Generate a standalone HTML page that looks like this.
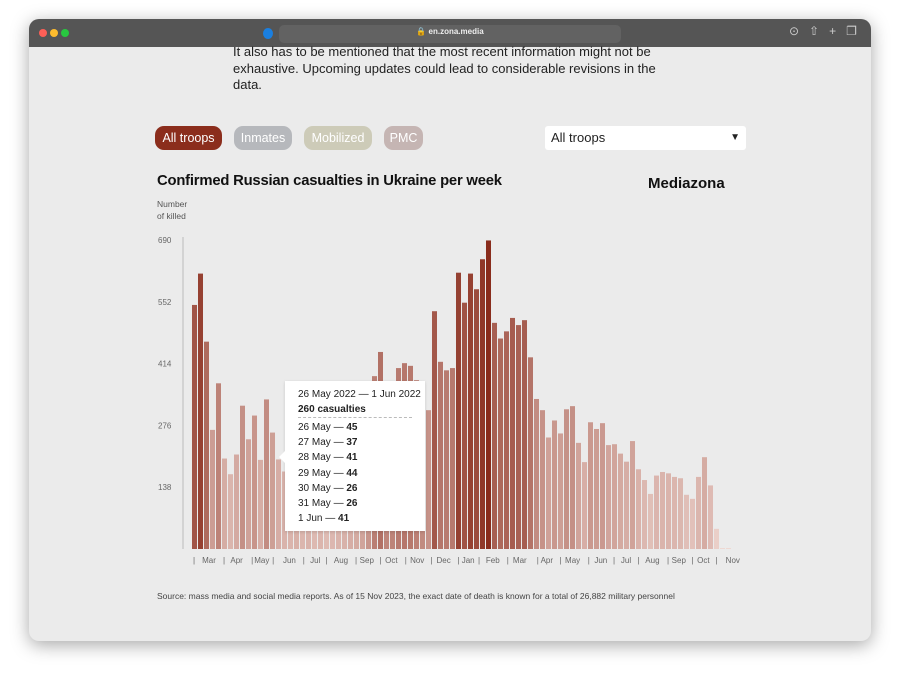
<!DOCTYPE html>
<html><head><meta charset="utf-8"><style>
body{margin:0;width:900px;height:680px;background:#fff;font-family:"Liberation Sans",sans-serif;position:relative;overflow:hidden}
.win{position:absolute;left:29px;top:19px;width:842px;height:622px;border-radius:10px;overflow:hidden;background:#ebebeb;box-shadow:0 4px 18px rgba(0,0,0,.35)}
.bar{position:absolute;left:0;top:0;width:842px;height:28px;background:#555}
.abs{position:absolute}
.pill{position:absolute;top:107px;height:24px;border-radius:9px;color:#fff;font-size:12.5px;line-height:24px;text-align:center}
</style></head><body>
<div class="win">
 <div class="bar">
  <div class="abs" style="left:10px;top:10px;width:8px;height:8px;border-radius:50%;background:#fe5f57"></div>
  <div class="abs" style="left:21px;top:10px;width:8px;height:8px;border-radius:50%;background:#febc2e"></div>
  <div class="abs" style="left:32px;top:10px;width:8px;height:8px;border-radius:50%;background:#28c840"></div>
  <div class="abs" style="left:250px;top:6px;width:342px;height:18px;border-radius:5px;background:#626262"></div>
  <div class="abs" style="left:234px;top:9px;width:10px;height:11px;border-radius:50%;background:#1a7fe0"></div>
  <div class="abs" style="left:250px;top:8px;width:342px;text-align:center;color:#eee;font-size:8px;font-weight:bold">🔒 en.zona.media</div>
  <div class="abs" style="left:760px;top:5px;color:#ccc;font-size:12px;letter-spacing:10px">⊙⇧+❐</div>
 </div>
 <div class="abs" style="left:204px;top:25px;width:424px;font-size:13px;line-height:16.5px;color:#222">It also has to be mentioned that the most recent information might not be exhaustive. Upcoming updates could lead to considerable revisions in the data.</div>
 <div class="pill" style="left:126px;width:67px;background:#8b2d1c">All troops</div>
 <div class="pill" style="left:205px;width:58px;background:#b6b8bc">Inmates</div>
 <div class="pill" style="left:275px;width:68px;background:#cdcbb8">Mobilized</div>
 <div class="pill" style="left:355px;width:39px;background:#c5b5b3">PMC</div>
 <div class="abs" style="left:516px;top:107px;width:201px;height:24px;background:#fff;border-radius:3px;font-size:13px;line-height:24px;color:#222"><span style="margin-left:6px">All troops</span><span style="position:absolute;right:6px;top:0;font-size:10px">▼</span></div>
 <div class="abs" style="left:128px;top:154px;font-size:14.8px;font-weight:bold;color:#111;letter-spacing:-.2px">Confirmed Russian casualties in Ukraine per week</div>
 <div class="abs" style="left:619px;top:156px;font-size:15px;font-weight:bold;color:#111">Mediazona</div>
 <div class="abs" style="left:128px;top:179px;font-size:8.5px;line-height:12px;color:#555">Number<br>of killed</div>
 <div class="abs" style="left:128px;top:572px;font-size:8.5px;color:#444">Source: mass media and social media reports. As of 15 Nov 2023, the exact date of death is known for a total of 26,882 military personnel</div>
</div>
<svg class="abs" style="left:0;top:0" width="900" height="680" id="chart"></svg>
<div class="abs" style="left:285px;top:381px;width:140px;height:150px;background:#fff;font-size:10px;color:#222;box-shadow:0 1px 3px rgba(0,0,0,.15)">
 <div style="position:absolute;left:-6px;top:70px;width:0;height:0;border:6px solid transparent;border-right-color:#fff;border-left:0"></div>
 <div style="position:absolute;left:13px;top:6px;line-height:15px">26 May 2022 — 1 Jun 2022<br><b>260 casualties</b></div>
 <div style="position:absolute;left:13px;top:36px;width:114px;border-top:1px dashed #bbb"></div>
 <div style="position:absolute;left:13px;top:39px;line-height:15.2px">26 May — <b>45</b><br>27 May — <b>37</b><br>28 May — <b>41</b><br>29 May — <b>44</b><br>30 May — <b>26</b><br>31 May — <b>26</b><br>1 Jun — <b>41</b></div>
</div>
<script>
const values=[545,615,463,266,370,202,167,211,320,245,298,199,334,260,200,173,170,185,160,175,150,165,140,155,170,180,200,210,240,300,386,440,360,365,404,415,409,377,340,310,531,418,399,404,617,550,615,580,647,689,505,470,486,516,500,511,428,335,310,249,287,258,312,319,237,194,283,268,281,232,234,213,195,241,178,154,123,164,172,169,161,158,121,112,161,205,142,45,2,2];
const yTicks=[138,276,414,552,690];
const monthLabels=["|","Mar","|","Apr","|","May","|","Jun","|","Jul","|","Aug","|","Sep","|","Oct","|","Nov","|","Dec","|","Jan","|","Feb","|","Mar","|","Apr","|","May","|","Jun","|","Jul","|","Aug","|","Sep","|","Oct","|","Nov"];
const monthIdx=[0,2.5,5,7.1,9.7,11.3,13.2,15.9,18.3,20.2,22.1,24.5,27,28.8,31.1,32.9,35.3,37.2,39.6,41.6,44.1,45.7,47.5,49.8,52.3,54.3,57.3,58.8,61.1,63.1,65.8,67.8,70,72,74.1,76.4,79,80.8,83.1,84.9,87.1,89.8];
const svg=document.getElementById('chart'),NS='http://www.w3.org/2000/svg';
const y0=549,yTop=240,vmax=690;
const ys=v=>y0-(v/vmax)*(y0-yTop);
const xs=i=>192+i*6;
function col(v){const t=Math.min(1,v/vmax);const a=[238,214,208],b=[137,44,28];return `rgb(${a.map((c,k)=>Math.round(c+(b[k]-c)*Math.pow(t,1.15))).join(',')})`;}
function mk(t,at){const e=document.createElementNS(NS,t);for(const k in at)e.setAttribute(k,at[k]);svg.appendChild(e);return e;}
const ax=mk('line',{x1:183,y1:237,x2:183,y2:549,stroke:'#bbb','stroke-width':1});


yTicks.forEach(v=>{const t=mk('text',{x:158,y:ys(v)+3,'font-size':8,fill:'#666','font-family':'Liberation Sans'});t.textContent=v;

});
values.forEach((v,i)=>{const h=Math.max(0.5,y0-ys(v));const r=mk('rect',{x:xs(i),y:y0-h,width:5,height:h,fill:col(v)});

});
monthLabels.forEach((m,k)=>{const t=mk('text',{x:xs(monthIdx[k])+2,y:563,'font-size':8,fill:'#666','text-anchor':'middle','font-family':'Liberation Sans'});t.textContent=m;

});
</script>
</body></html>
